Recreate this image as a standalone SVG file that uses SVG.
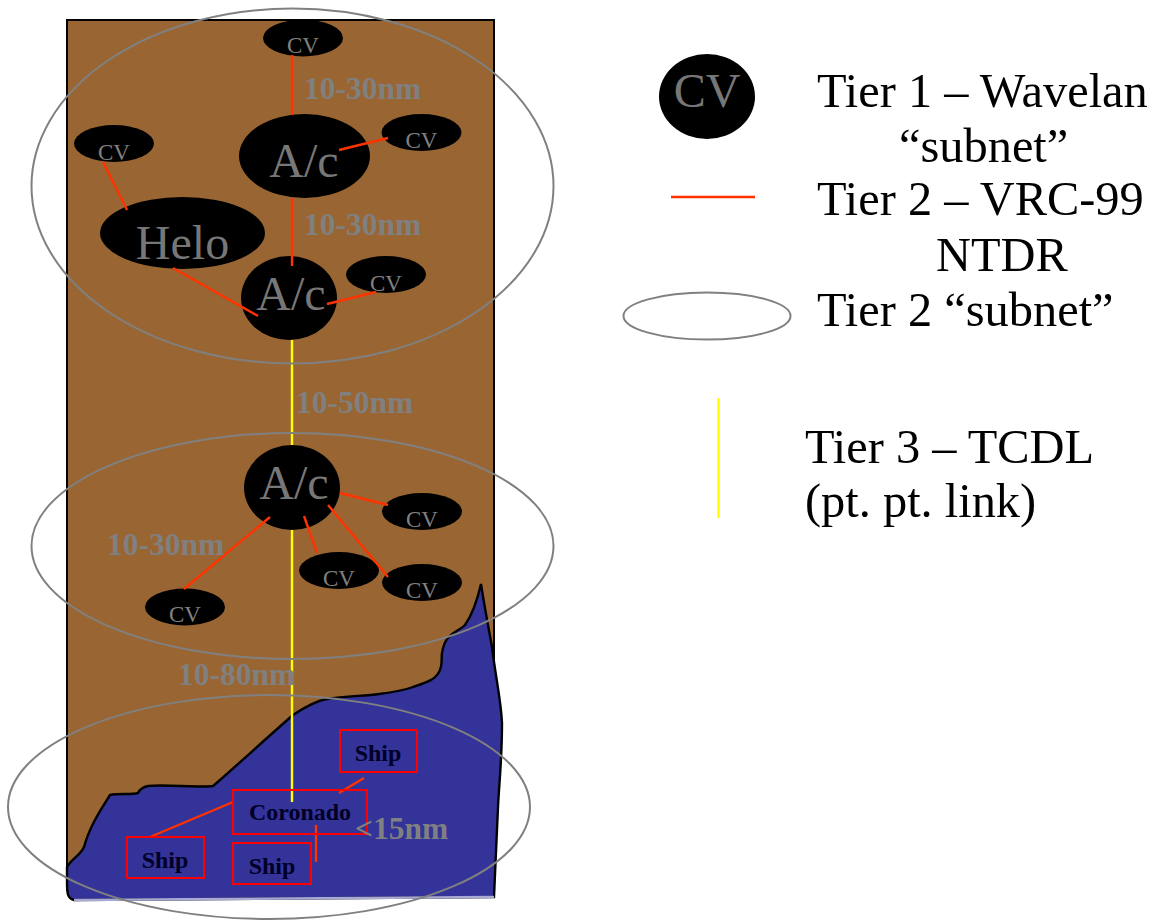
<svg xmlns="http://www.w3.org/2000/svg" width="1159" height="920" viewBox="0 0 1159 920">
<style>
text{font-family:"Liberation Serif","Times New Roman",serif}
.n{fill:#000}
.cv{font-size:23px;fill:#808080;text-anchor:middle}
.big{font-size:48px;fill:#777;text-anchor:middle}
.d{font-size:31.500px;font-weight:bold;fill:#808080}
.s{font-size:24px;font-weight:bold;fill:#000026;text-anchor:middle}
.l{font-size:48.400px;fill:#000}
.sub{fill:none;stroke:#808080;stroke-width:2}
.r{stroke:#ff3300;stroke-width:2.400;fill:none}
.y{stroke:#ffff00;stroke-width:2.400;fill:none}
.b{fill:none;stroke:#ff0000;stroke-width:2}
</style>
<g id="terrain">
<rect x="67" y="20" width="427" height="870" fill="#996633" stroke="#000" stroke-width="2"/>
<path d="M67 867C72 858 80 856 84 847C90 825 102 808 110 795C118 793 132 795 138 793C140 789 143 787 148 786C165 784 200 788 213 786L220 780C245 758 270 735 293 715C305 707 315 701 327 699C345 696 365 696 379 694C395 692 405 690 413 687C425 683 435 680 439 672C443 665 441 660 442 653C443 647 445 641 448 638C453 632 460 630 465 625C472 615 478 597 481 584C485 610 489 630 492 647C496 680 501 700 502 723C502 760 499 785 498 807L494 897L74 900C67 898 67 893 67 880Z" fill="#333399" stroke="#000" stroke-width="2.400"/>
<path d="M74 900L494 897" stroke="#a9a9d6" stroke-width="2.400" fill="none"/>
</g>
<g id="connectors-tier3">
<line class="y" x1="292" y1="340" x2="292" y2="802"/>
</g>
<g id="cv-top"><ellipse class="n" cx="303" cy="38" rx="40" ry="18.500"/><text class="cv" x="303" y="53">CV</text></g>
<g id="ac-1"><ellipse class="n" cx="304.500" cy="156" rx="65.500" ry="42"/><text class="big" x="304" y="177">A/c</text></g>
<g id="cv-ac1"><ellipse class="n" cx="421.500" cy="132.500" rx="40" ry="18.500"/><text class="cv" x="421.500" y="148">CV</text></g>
<g id="cv-left"><ellipse class="n" cx="114" cy="143.500" rx="40" ry="18.500"/><text class="cv" x="114" y="160">CV</text></g>
<g id="helo"><ellipse class="n" cx="182.500" cy="233" rx="82.500" ry="36"/><text class="big" x="182.500" y="259">Helo</text></g>
<g id="ac-2"><ellipse class="n" cx="289" cy="298" rx="48" ry="42"/><text class="big" x="291" y="310">A/c</text></g>
<g id="cv-ac2"><ellipse class="n" cx="386" cy="274.500" rx="40" ry="18.500"/><text class="cv" x="386" y="291">CV</text></g>
<g id="ac-3"><ellipse class="n" cx="292" cy="487.500" rx="48" ry="42.500"/><text class="big" x="294" y="499">A/c</text></g>
<g id="cv-m1"><ellipse class="n" cx="422" cy="511.500" rx="40" ry="18.500"/><text class="cv" x="422" y="527">CV</text></g>
<g id="cv-m2"><ellipse class="n" cx="339" cy="570.500" rx="40" ry="18.500"/><text class="cv" x="339" y="586">CV</text></g>
<g id="cv-m3"><ellipse class="n" cx="422" cy="582.500" rx="40" ry="18.500"/><text class="cv" x="422" y="598">CV</text></g>
<g id="cv-m4"><ellipse class="n" cx="185" cy="607" rx="40" ry="18.500"/><text class="cv" x="185" y="622">CV</text></g>
<g id="connectors-tier2">
<line class="r" x1="292" y1="55" x2="292" y2="115"/>
<line class="r" x1="292" y1="198" x2="292" y2="266"/>
<line class="r" x1="339" y1="150" x2="388" y2="138"/>
<line class="r" x1="103" y1="162" x2="127" y2="210"/>
<line class="r" x1="173" y1="268" x2="258" y2="316"/>
<line class="r" x1="327" y1="304" x2="376" y2="292"/>
<line class="r" x1="340" y1="493" x2="388" y2="505"/>
<line class="r" x1="304" y1="516" x2="317" y2="553"/>
<line class="r" x1="328" y1="505" x2="388" y2="577"/>
<line class="r" x1="270" y1="517" x2="184" y2="589"/>
<line class="r" x1="364" y1="778" x2="339" y2="793"/>
<line class="r" x1="233" y1="802" x2="150" y2="837"/>
<line class="r" x1="316" y1="825" x2="316" y2="862"/>
</g>
<g id="ship-coronado"><rect class="b" x="233" y="790" width="134" height="44"/><text class="s" x="300" y="820">Coronado</text></g>
<g id="ship-1"><rect class="b" x="340" y="730" width="77" height="42"/><text class="s" x="378" y="761">Ship</text></g>
<g id="ship-2"><rect class="b" x="127" y="837" width="77" height="41"/><text class="s" x="165" y="868">Ship</text></g>
<g id="ship-3"><rect class="b" x="233" y="843" width="78" height="41"/><text class="s" x="272" y="874">Ship</text></g>
<g id="distances">
<text class="d" x="304" y="99">10-30nm</text>
<text class="d" x="304" y="235">10-30nm</text>
<text class="d" x="296" y="413">10-50nm</text>
<text class="d" x="107" y="555">10-30nm</text>
<text class="d" x="178" y="685">10-80nm</text>
<text class="d" x="355" y="839">&lt;15nm</text>
</g>
<g id="subnets">
<ellipse class="sub" cx="292.500" cy="186" rx="261" ry="177.500"/>
<ellipse class="sub" cx="292.500" cy="546" rx="261" ry="113"/>
<ellipse class="sub" cx="269" cy="807" rx="261" ry="112"/>
</g>
<g id="legend">
<ellipse class="n" cx="707" cy="96.500" rx="48" ry="42.500"/>
<text class="big" x="707" y="107">CV</text>
<line class="r" x1="671" y1="197" x2="755" y2="197"/>
<ellipse class="sub" cx="707" cy="316" rx="83.500" ry="23.500"/>
<line class="y" x1="718.500" y1="398" x2="718.500" y2="518"/>
<text class="l" x="817" y="107">Tier 1 – Wavelan</text>
<text class="l" x="899" y="162">“subnet”</text>
<text class="l" x="817" y="215">Tier 2 – VRC-99</text>
<text class="l" x="936" y="271">NTDR</text>
<text class="l" x="817" y="326">Tier 2 “subnet”</text>
<text class="l" x="805" y="463">Tier 3 – TCDL</text>
<text class="l" x="805" y="517">(pt. pt. link)</text>
</g>
</svg>
